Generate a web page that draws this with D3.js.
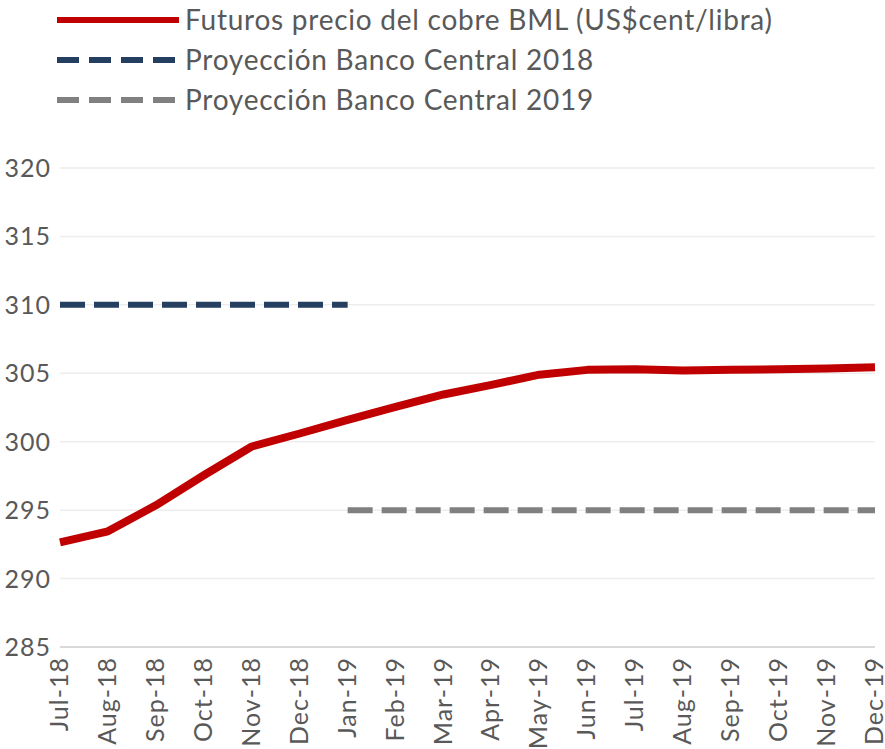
<!DOCTYPE html>
<html>
<head>
<meta charset="utf-8">
<script src="https://cdn.jsdelivr.net/npm/d3@7"></script>
<style>
  body { margin: 0; background: #fff; }
  svg { font-family: Lato, "Open Sans", sans-serif; }
</style>
</head>
<body>
<svg id="chart" width="885" height="749"></svg>
<script>
// data
var months = ["Jul-18","Aug-18","Sep-18","Oct-18","Nov-18","Dec-18","Jan-19","Feb-19","Mar-19",
              "Apr-19","May-19","Jun-19","Jul-19","Aug-19","Sep-19","Oct-19","Nov-19","Dec-19"];
var futuros = [292.65, 293.45, 295.35, 297.55, 299.65, 300.6, 301.6, 302.55, 303.45,
               304.15, 304.9, 305.25, 305.3, 305.2, 305.25, 305.3, 305.35, 305.45];
var proy2018 = [{m: "Jul-18", v: 310}, {m: "Jan-19", v: 310}];
var proy2019 = [{m: "Jan-19", v: 295}, {m: "Dec-19", v: 295}];
var yTicks = [285, 290, 295, 300, 305, 310, 315, 320];

var legendItems = [
  {label: "Futuros precio del cobre BML (US$cent/libra)", color: "#C00000", dash: null},
  {label: "Proyección Banco Central 2018", color: "#243F60", dash: "22,10"},
  {label: "Proyección Banco Central 2019", color: "#808080", dash: "22,10"}
];

var svg = d3.select("#chart");

var x = d3.scalePoint().domain(months).range([60, 875]);
var y = d3.scaleLinear().domain([285, 320]).range([647, 168]);

// gridlines
svg.append("g").selectAll("line")
  .data(yTicks.filter(function(d){ return d > 285; }))
  .enter().append("line")
    .attr("x1", 60).attr("x2", 875)
    .attr("y1", function(d){ return y(d); })
    .attr("y2", function(d){ return y(d); })
    .attr("stroke", "#ededed").attr("stroke-width", 1.5);

// x axis line
svg.append("line")
  .attr("x1", 60).attr("x2", 875)
  .attr("y1", y(285)).attr("y2", y(285))
  .attr("stroke", "#d9d9d9").attr("stroke-width", 2);

// y labels
svg.append("g").selectAll("text")
  .data(yTicks)
  .enter().append("text")
    .attr("x", 51)
    .attr("y", function(d){ return y(d); })
    .attr("dy", "0.36em")
    .attr("text-anchor", "end")
    .attr("fill", "#595959")
    .style("font-size", "25px")
    .style("letter-spacing", "1px")
    .text(function(d){ return d; });

// x labels rotated
svg.append("g").selectAll("text")
  .data(months)
  .enter().append("text")
    .attr("transform", function(d){ return "translate(" + (x(d) + 8) + ",657) rotate(-90)"; })
    .attr("text-anchor", "end")
    .attr("fill", "#595959")
    .style("font-size", "25px")
    .style("letter-spacing", "1px")
    .text(function(d){ return d; });

// projections
var flat = d3.line()
  .x(function(d){ return x(d.m); })
  .y(function(d){ return y(d.v); });

svg.append("path").datum(proy2018)
  .attr("d", flat)
  .attr("fill", "none").attr("stroke", "#243F60")
  .attr("stroke-width", 6).attr("stroke-dasharray", "25,9");

svg.append("path").datum(proy2019)
  .attr("d", flat)
  .attr("fill", "none").attr("stroke", "#808080")
  .attr("stroke-width", 6).attr("stroke-dasharray", "25,9");

// futures line
var line = d3.line()
  .x(function(d, i){ return x(months[i]); })
  .y(function(d){ return y(d); });

svg.append("path").datum(futuros)
  .attr("d", line)
  .attr("fill", "none").attr("stroke", "#C00000")
  .attr("stroke-width", 8).attr("stroke-linejoin", "round");

// legend
var leg = svg.append("g").selectAll("g")
  .data(legendItems)
  .enter().append("g")
    .attr("transform", function(d, i){ return "translate(57," + (20 + i * 40) + ")"; });

leg.append("line")
  .attr("x1", 0).attr("x2", 122)
  .attr("stroke", function(d){ return d.color; })
  .attr("stroke-width", 6)
  .attr("stroke-dasharray", function(d){ return d.dash; });

leg.append("text")
  .attr("x", 128)
  .attr("dy", "0.34em")
  .attr("fill", "#595959")
  .style("font-size", "28px")
  .style("letter-spacing", "0.75px")
  .text(function(d){ return d.label; });
</script>
</body>
</html>
